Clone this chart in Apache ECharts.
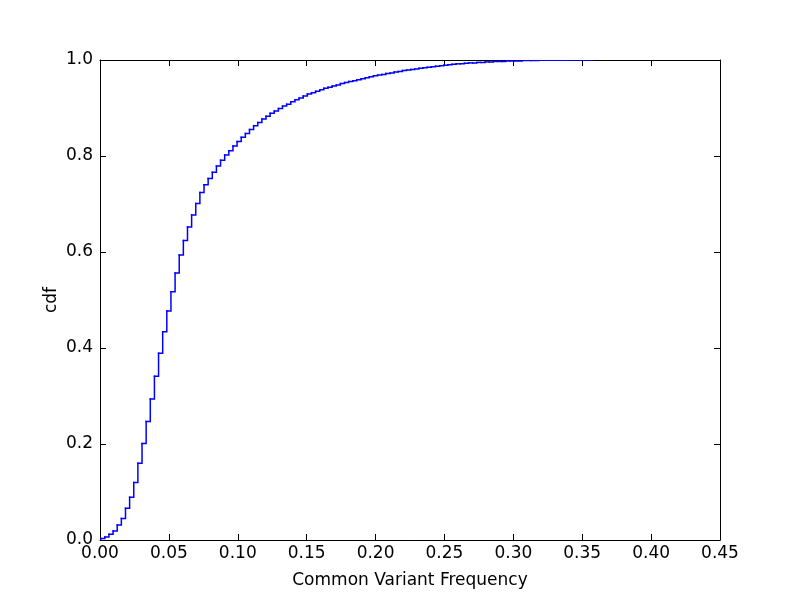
<!DOCTYPE html>
<html>
<head>
<meta charset="utf-8">
<script src="https://cdn.jsdelivr.net/npm/echarts@6/dist/echarts.min.js"></script>
<style>html,body{margin:0;padding:0;background:#fff;}#c{width:800px;height:600px;}</style>
</head>
<body>
<div id="c"></div>
<script>
const freq = [0.0005, 0.0035, 0.0065, 0.0095, 0.0125, 0.0155, 0.0185, 0.0215, 0.0245, 0.0275,
  0.0305, 0.0335, 0.0365, 0.0395, 0.0425, 0.0455, 0.0485, 0.0515, 0.0545, 0.0575,
  0.0605, 0.0635, 0.0665, 0.0695, 0.0725, 0.0755, 0.0785, 0.0815, 0.0845, 0.0875,
  0.0905, 0.0935, 0.0965, 0.0995, 0.1025, 0.1055, 0.1085, 0.1115, 0.1145, 0.1175,
  0.1205, 0.1235, 0.1265, 0.1295, 0.1325, 0.1355, 0.1385, 0.1415, 0.1445, 0.1475,
  0.1505, 0.1535, 0.1565, 0.1595, 0.1625, 0.1655, 0.1685, 0.1715, 0.1745, 0.1775,
  0.1805, 0.1835, 0.1865, 0.1895, 0.1925, 0.1955, 0.1985, 0.2015, 0.2045, 0.2075,
  0.2105, 0.2135, 0.2165, 0.2195, 0.2225, 0.2255, 0.2285, 0.2315, 0.2345, 0.2375,
  0.2405, 0.2435, 0.2465, 0.2495, 0.2525, 0.2555, 0.2585, 0.2615, 0.2645, 0.2675,
  0.2705, 0.2735, 0.2765, 0.2795, 0.2825, 0.2855, 0.2885, 0.2915, 0.2945, 0.2975,
  0.3005, 0.3065, 0.3125, 0.3185, 0.3245, 0.3305, 0.3395, 0.3485, 0.3575];
const cdf = [0.003, 0.006, 0.012, 0.019, 0.031, 0.045, 0.066, 0.089, 0.120, 0.160,
  0.201, 0.247, 0.294, 0.341, 0.389, 0.434, 0.477, 0.517, 0.556, 0.594,
  0.624, 0.652, 0.677, 0.701, 0.724, 0.740, 0.753, 0.766, 0.779, 0.791,
  0.802, 0.811, 0.821, 0.830, 0.839, 0.847, 0.855, 0.863, 0.870, 0.877,
  0.883, 0.889, 0.894, 0.899, 0.904, 0.908, 0.913, 0.917, 0.921, 0.925,
  0.929, 0.932, 0.935, 0.938, 0.941, 0.943, 0.946, 0.948, 0.951, 0.953,
  0.955, 0.957, 0.959, 0.961, 0.963, 0.965, 0.967, 0.969, 0.970, 0.972,
  0.973, 0.975, 0.976, 0.978, 0.979, 0.980, 0.981, 0.983, 0.984, 0.985,
  0.986, 0.987, 0.988, 0.989, 0.990, 0.991, 0.992, 0.992, 0.993, 0.994,
  0.994, 0.995, 0.995, 0.996, 0.996, 0.997, 0.997, 0.997, 0.998, 0.998,
  0.998, 0.999, 0.999, 0.9993, 0.9995, 0.9997, 0.9998, 0.9999, 1.0];
const xTicks = [0, 0.05, 0.10, 0.15, 0.20, 0.25, 0.30, 0.35, 0.40, 0.45];
const yTicks = [0, 0.2, 0.4, 0.6, 0.8, 1.0];

const FONT = 'DejaVu Sans';
const FS = 17;
const chart = echarts.init(document.getElementById('c'), null, {renderer: 'canvas'});
const axisLine = {show: true, onZero: false, lineStyle: {color: '#000', width: 1}};
const tick = {show: true, inside: true, length: 6, lineStyle: {color: '#000', width: 1}};
const xBase = {type: 'value', min: xTicks[0], max: xTicks[xTicks.length - 1], interval: 0.05,
  axisLine: axisLine, axisTick: tick, splitLine: {show: false}};
const yBase = {type: 'value', min: yTicks[0], max: yTicks[yTicks.length - 1], interval: 0.2,
  axisLine: axisLine, axisTick: tick, splitLine: {show: false}};

// each item: [previous x, previous cdf, x, cdf] -> one stair (horizontal then vertical)
const stepData = freq.map((f, i) => [i ? freq[i - 1] : 0, i ? cdf[i - 1] : 0, f, cdf[i]]);

chart.setOption({
  animation: false,
  backgroundColor: '#fff',
  grid: {left: 100, right: 80, top: 60, bottom: 60, containLabel: false},
  xAxis: [
    Object.assign({}, xBase, {position: 'bottom',
      name: 'Common Variant Frequency', nameLocation: 'middle', nameGap: 32,
      nameTextStyle: {fontFamily: FONT, fontSize: FS, color: '#000'},
      axisLabel: {show: true, margin: 5, fontFamily: FONT, fontSize: FS, color: '#000',
        formatter: v => v.toFixed(2)}}),
    Object.assign({}, xBase, {position: 'top', axisLabel: {show: false}})
  ],
  yAxis: [
    Object.assign({}, yBase, {position: 'left',
      name: 'cdf', nameLocation: 'middle', nameGap: 40, nameMoveOverlap: false,
      nameTextStyle: {fontFamily: FONT, fontSize: FS, color: '#000'},
      axisLabel: {show: true, margin: 7, fontFamily: FONT, fontSize: FS, color: '#000',
        formatter: v => v.toFixed(1)}}),
    Object.assign({}, yBase, {position: 'right', axisLabel: {show: false}})
  ],
  series: [{
    type: 'custom',
    xAxisIndex: 0, yAxisIndex: 0,
    clip: true,
    encode: {x: [0, 2], y: [1, 3]},
    renderItem: function (params, api) {
      const a = api.coord([api.value(0), api.value(1)]);
      const b = api.coord([api.value(2), api.value(1)]);
      const c = api.coord([api.value(2), api.value(3)]);
      return {
        type: 'polyline',
        shape: {points: [a, b, c]},
        style: {stroke: '#0000ff', lineWidth: 1.5, fill: null, lineCap: 'square', lineJoin: 'miter'}
      };
    },
    data: stepData
  }]
});
</script>
</body>
</html>
